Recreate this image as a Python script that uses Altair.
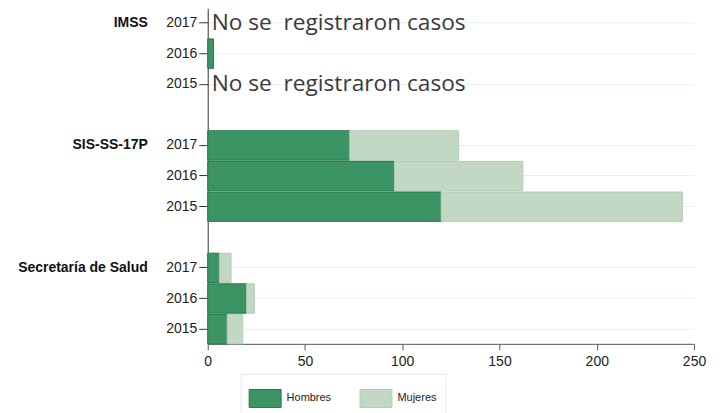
import altair as alt
import pandas as pd

groups = ["IMSS", "IMSS", "IMSS", "SIS-SS-17P", "SIS-SS-17P", "SIS-SS-17P",
          "Secretaría de Salud", "Secretaría de Salud", "Secretaría de Salud"]
years = ["2017", "2016", "2015"] * 3
hombres = [0, 3, 0, 73, 96, 120, 6, 20, 10]
mujeres = [0, 0, 0, 56, 66, 124, 6, 4, 8]
sexos = ["Hombres", "Mujeres"]
group_names = ["IMSS", "SIS-SS-17P", "Secretaría de Salud"]
no_case_rows = [("IMSS", "2017"), ("IMSS", "2015")]
no_case_text = "No se \u00a0registraron casos"

keys = [f"{g}|{y}" for g, y in zip(groups, years)]
domain = keys[0:3] + ["_a"] + keys[3:6] + ["_b"] + keys[6:9]

rows = []
for k, h, m in zip(keys, hombres, mujeres):
    if h > 0:
        rows.append({"key": k, "sexo": "Hombres", "valor": h, "orden": 0})
    if m > 0:
        rows.append({"key": k, "sexo": "Mujeres", "valor": m, "orden": 1})
df = pd.DataFrame(rows)

fills = ["#3c9465", "#c2d8c4"]
strokes = ["#1f7c48", "#b2ceb5"]

yenc = alt.Y("key:N", scale=alt.Scale(domain=domain, paddingInner=0.04, paddingOuter=0),
             axis=alt.Axis(title=None, values=keys, labelExpr="split(datum.label,'|')[1]",
                           labelFont="Liberation Sans", labelFontSize=14, labelColor="#222",
                           tickSize=9, tickColor="#333", domainColor="#333", labelPadding=2,
                           grid=True, gridColor="#e8eef2", gridWidth=1, bandPosition=0.5))

legend_path = "M-1,-0.5625H1V0.5625H-1Z"

bars = alt.Chart(df).mark_bar(strokeWidth=1).encode(
    x=alt.X("valor:Q", stack="zero", scale=alt.Scale(domain=[0, 250], nice=False),
            axis=alt.Axis(title=None, values=[0, 50, 100, 150, 200, 250], labelFont="Liberation Sans",
                          labelFontSize=14, labelColor="#222", tickSize=6, tickColor="#555",
                          domainColor="#555", labelPadding=5, labelFlush=False, grid=False)),
    y=yenc,
    fill=alt.Fill("sexo:N", scale=alt.Scale(domain=sexos, range=fills),
                  legend=alt.Legend(title=None, orient="none", legendX=33, legendY=366,
                                    direction="horizontal", symbolType=legend_path, symbolSize=1024,
                                    symbolStrokeWidth=1, labelFont="Liberation Sans", labelFontSize=11,
                                    labelColor="#222", labelOffset=5, columnPadding=26, padding=8,
                                    strokeColor="#e6ecee", fillColor="white", symbolOpacity=1)),
    stroke=alt.Stroke("sexo:N", scale=alt.Scale(domain=sexos, range=strokes), legend=None),
    order=alt.Order("orden:Q"),
)

nc_df = pd.DataFrame({"key": [f"{g}|{y}" for g, y in no_case_rows], "txt": [no_case_text] * len(no_case_rows)})
nocase = alt.Chart(nc_df).mark_text(align="left", baseline="middle", font="Open Sans",
                                    fontSize=22.7, color="#3a3a3a").encode(
    x=alt.value(4), y=alt.Y("key:N"), text="txt:N")

gl_df = pd.DataFrame({"key": [f"{g}|2017" for g in group_names], "txt": group_names})
glabels = alt.Chart(gl_df).mark_text(align="right", baseline="middle", font="Liberation Sans",
                                     fontSize=14, fontWeight="bold", color="#111").encode(
    x=alt.value(-60), y=alt.Y("key:N"), text="txt:N")

chart = alt.layer(bars, nocase, glabels).properties(
    width=487, height=336,
    autosize=alt.AutoSizeParams(type="none"),
    padding={"left": 200, "top": 0, "right": 20, "bottom": 80},
).configure_view(stroke=None)

chart.save("out.html", embed_options={"renderer": "svg", "actions": False})
